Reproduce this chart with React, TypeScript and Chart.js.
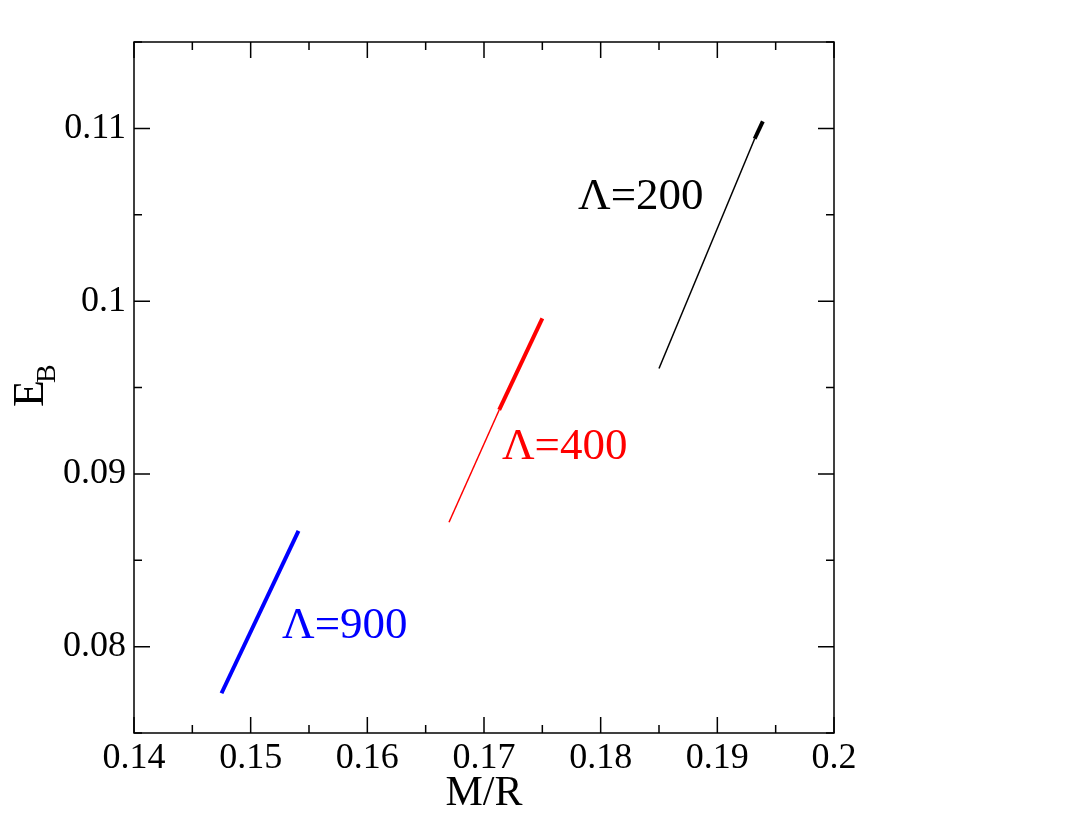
import React, { useEffect, useRef } from "react";
import { Chart, registerables } from "chart.js";

Chart.register(...registerables);

// ---- data ----
const black200Thin = [
  { x: 0.185, y: 0.0961 },
  { x: 0.1932, y: 0.1094 },
];
const black200Thick = [
  { x: 0.1932, y: 0.1094 },
  { x: 0.1939, y: 0.1104 },
];
const red400Thin = [
  { x: 0.167, y: 0.0872 },
  { x: 0.1713, y: 0.0937 },
];
const red400Thick = [
  { x: 0.1713, y: 0.0937 },
  { x: 0.175, y: 0.099 },
];
const blue900 = [
  { x: 0.1475, y: 0.0773 },
  { x: 0.1541, y: 0.0867 },
];

const xMajorTicks = [0.14, 0.15, 0.16, 0.17, 0.18, 0.19, 0.2];
const xMinorTicks = [0.145, 0.155, 0.165, 0.175, 0.185, 0.195];
const yMajorTicks = [0.08, 0.09, 0.1, 0.11];
const yMinorTicks = [0.075, 0.085, 0.095, 0.105, 0.115];

const curveLabels = [
  { text: "\u039B=200", x: 0.17806, y: 0.10601, color: "#000000" },
  { text: "\u039B=400", x: 0.17154, y: 0.09156, color: "#ff0000" },
  { text: "\u039B=900", x: 0.15269, y: 0.08121, color: "#0000ff" },
];

const SERIF = "'Liberation Serif', 'Times New Roman', serif";

const fmt = (v: number) => String(Number(v.toFixed(4)));

const framePlugin = {
  id: "frameTicks",
  afterDatasetsDraw(chart: any) {
    const { ctx, chartArea, scales } = chart;
    const { left, right, top, bottom } = chartArea;
    const xs = scales.x;
    const ys = scales.y;
    ctx.save();
    ctx.strokeStyle = "#000";
    ctx.lineWidth = 1.5;
    ctx.strokeRect(left, top, right - left, bottom - top);
    ctx.beginPath();
    const major = 16;
    const minor = 8;
    xMajorTicks.forEach((v) => {
      const p = xs.getPixelForValue(v);
      ctx.moveTo(p, bottom); ctx.lineTo(p, bottom - major);
      ctx.moveTo(p, top); ctx.lineTo(p, top + major);
    });
    xMinorTicks.forEach((v) => {
      const p = xs.getPixelForValue(v);
      ctx.moveTo(p, bottom); ctx.lineTo(p, bottom - minor);
      ctx.moveTo(p, top); ctx.lineTo(p, top + minor);
    });
    yMajorTicks.forEach((v) => {
      const p = ys.getPixelForValue(v);
      ctx.moveTo(left, p); ctx.lineTo(left + major, p);
      ctx.moveTo(right, p); ctx.lineTo(right - major, p);
    });
    yMinorTicks.forEach((v) => {
      const p = ys.getPixelForValue(v);
      ctx.moveTo(left, p); ctx.lineTo(left + minor, p);
      ctx.moveTo(right, p); ctx.lineTo(right - minor, p);
    });
    ctx.stroke();

    // curve labels
    ctx.font = `45px ${SERIF}`;
    ctx.textBaseline = "middle";
    ctx.textAlign = "left";
    curveLabels.forEach((l) => {
      ctx.fillStyle = l.color;
      ctx.fillText(l.text, xs.getPixelForValue(l.x), ys.getPixelForValue(l.y));
    });

    // axis titles
    ctx.fillStyle = "#000";
    ctx.font = `42px ${SERIF}`;
    ctx.textAlign = "center";
    ctx.textBaseline = "alphabetic";
    ctx.fillText("M/R", (left + right) / 2, 805);

    ctx.save();
    ctx.translate(0, 407);
    ctx.rotate(-Math.PI / 2);
    ctx.textAlign = "left";
    ctx.textBaseline = "alphabetic";
    ctx.font = `44px ${SERIF}`;
    const eW = ctx.measureText("E").width;
    ctx.fillText("E", 0, 43);
    ctx.font = `28px ${SERIF}`;
    ctx.fillText("B", eW - 3, 55);
    ctx.restore();

    ctx.restore();
  },
};

export default function App() {
  const ref = useRef<HTMLCanvasElement>(null);

  useEffect(() => {
    document.body.style.margin = "0";
    const seg = (data: any, color: string, width: number) => ({
      data,
      borderColor: color,
      backgroundColor: color,
      borderWidth: width,
      showLine: true,
      pointRadius: 0,
      fill: false,
    });
    const chart = new Chart(ref.current as HTMLCanvasElement, {
      type: "scatter",
      data: {
        datasets: [
          seg(black200Thin, "#000000", 1.5),
          seg(black200Thick, "#000000", 4),
          seg(red400Thin, "#ff0000", 1.5),
          seg(red400Thick, "#ff0000", 4),
          seg(blue900, "#0000ff", 4),
        ],
      },
      options: {
        animation: false,
        responsive: false,
        layout: { padding: { left: 0, right: 246, top: 42, bottom: 0 } },
        plugins: { legend: { display: false }, tooltip: { enabled: false } },
        scales: {
          x: {
            type: "linear",
            min: 0.14,
            max: 0.2,
            grid: { display: false },
            border: { display: false },
            afterBuildTicks: (s: any) => {
              s.ticks = xMajorTicks.map((v) => ({ value: v }));
            },
            afterFit: (s: any) => {
              s.height = 101;
            },
            ticks: {
              color: "#000",
              padding: -4,
              maxRotation: 0,
              font: { family: SERIF, size: 36 },
              callback: (v: any) => fmt(Number(v)),
            },
          },
          y: {
            type: "linear",
            min: 0.075,
            max: 0.115,
            grid: { display: false },
            border: { display: false },
            afterBuildTicks: (s: any) => {
              s.ticks = yMajorTicks.map((v) => ({ value: v }));
            },
            afterFit: (s: any) => {
              s.width = 134;
            },
            ticks: {
              color: "#000",
              padding: 0,
              font: { family: SERIF, size: 36 },
              callback: (v: any) => fmt(Number(v)),
            },
          },
        },
      },
      plugins: [framePlugin],
    } as any);
    return () => chart.destroy();
  }, []);

  return (
    <div style={{ width: 1080, height: 834, background: "#fff" }}>
      <canvas ref={ref} width={1080} height={834} style={{ display: "block" }} />
    </div>
  );
}
